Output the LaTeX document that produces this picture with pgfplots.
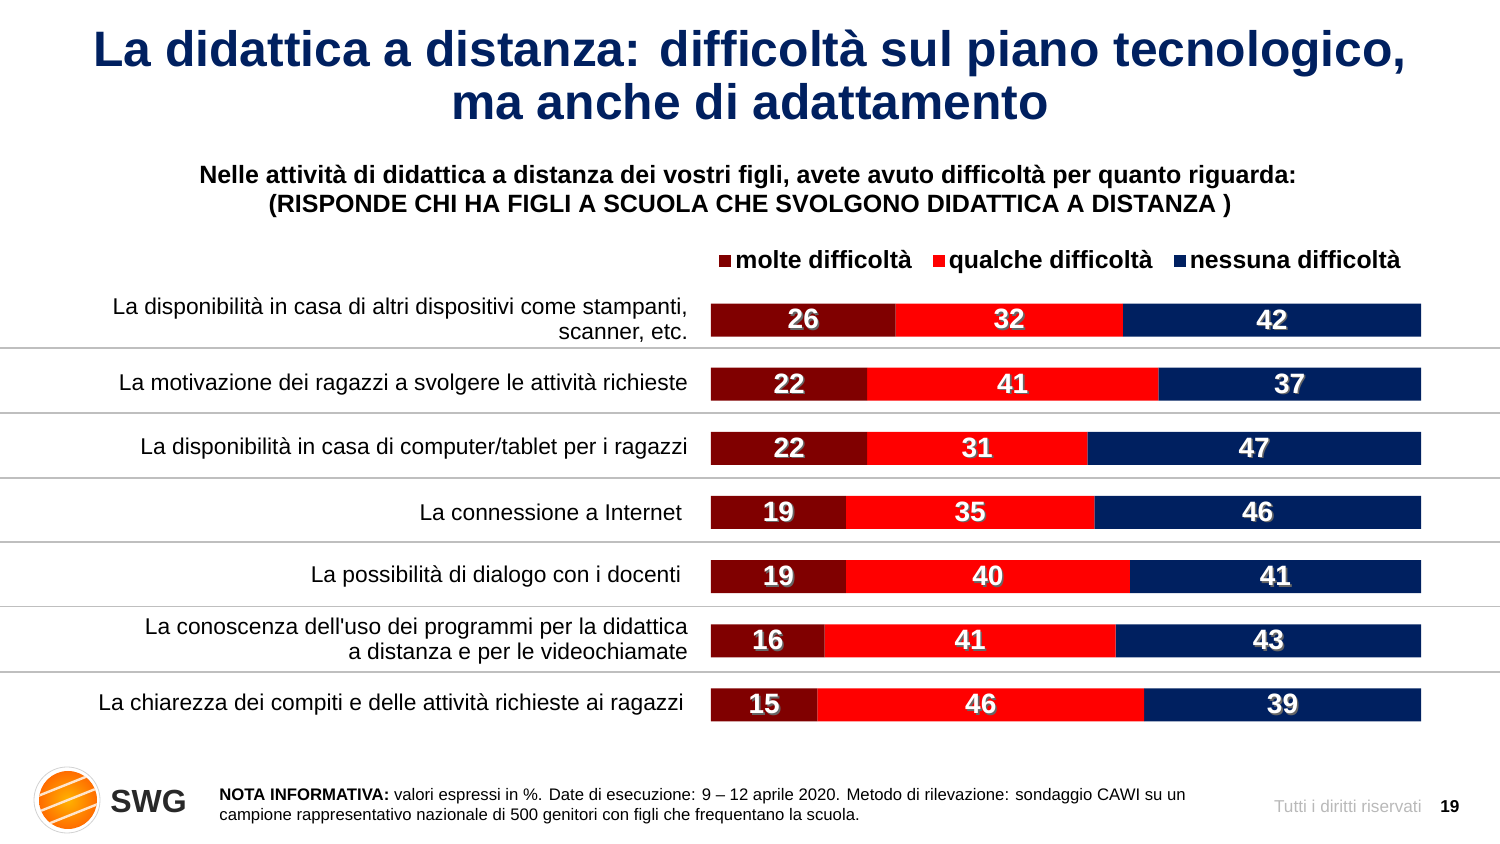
\documentclass[border=0pt]{standalone}
\usepackage{pgfplots}
\pgfplotsset{compat=1.18}
\usepackage{pgfplotstable}
\usetikzlibrary{calc}
\usepackage{fontspec}
\setmainfont{Liberation Sans}
\definecolor{dred}{RGB}{128,0,0}
\definecolor{bred}{RGB}{255,0,0}
\definecolor{navy}{RGB}{0,32,96}
\definecolor{ttl}{RGB}{0,32,96}
\definecolor{sep}{RGB}{191,191,191}
\definecolor{logotxt}{RGB}{40,40,40}

\pgfplotstableread{
cat molte qualche nessuna
0 26 32 42
1 22 41 37
2 22 31 47
3 19 35 46
4 19 40 41
5 16 41 43
6 15 46 39
}\data

\newcommand{\shadowed}[1]{\makebox[0pt][l]{\hspace{0.8pt}\raisebox{-0.8pt}{\color{black!60}#1}}#1}

\begin{document}
\begin{tikzpicture}
\path[use as bounding box] (0,0) rectangle (750pt,422pt);
% title
\node[anchor=base, text=ttl, font=\bfseries\fontsize{24.9}{29}\selectfont] at (375pt,388.5pt) {La didattica a distanza: difficoltà sul piano tecnologico,};
\node[anchor=base, text=ttl, font=\bfseries\fontsize{24.9}{29}\selectfont] at (375pt,362pt) {ma anche di adattamento};
% subtitle
\node[anchor=base, font=\bfseries\fontsize{12.5}{15}\selectfont] at (374pt,330pt) {Nelle attività di didattica a distanza dei vostri figli, avete avuto difficoltà per quanto riguarda:};
\node[anchor=base, font=\bfseries\fontsize{12.5}{15}\selectfont] at (375pt,315.5pt) {(RISPONDE CHI HA FIGLI A SCUOLA CHE SVOLGONO DIDATTICA A DISTANZA )};

\begin{axis}[
  at={(355.5pt,53.5pt)}, anchor=south west,
  scale only axis, width=355pt, height=224.5pt,
  xmin=0, xmax=100, ymin=-0.5, ymax=6.5, y dir=reverse,
  xbar stacked, bar width=16.5pt,
  axis line style={draw=none}, xtick=\empty,
  ytick={0,...,6}, major tick length=0pt,
  yticklabels={{La disponibilità in casa di altri dispositivi come stampanti,\\scanner, etc.},
    {La motivazione dei ragazzi a svolgere le attività richieste},
    {La disponibilità in casa di computer/tablet per i ragazzi},
    {\raisebox{-1.5pt}{La connessione a Internet}\hspace*{3pt}},
    {\raisebox{2.5pt}{La possibilità di dialogo con i docenti}\hspace*{3.5pt}},
    {La conoscenza dell\textquotesingle uso dei programmi per la didattica\\a distanza e per le videochiamate},
    {La chiarezza dei compiti e delle attività richieste ai ragazzi\hspace*{2pt}}},
  yticklabel style={align=right, font=\fontsize{11.4}{12.5}\selectfont, xshift=-8pt},
  clip=false,
  legend style={draw=none, fill=none, legend columns=3, at={(0.9775,1.06)}, anchor=east,
    font=\bfseries\fontsize{12.4}{14}\selectfont, inner sep=0pt,
    /tikz/every even column/.append style={column sep=8.5pt}},
  legend image code/.code={\fill[#1] (0pt,-3pt) rectangle (6pt,3pt);},
  every node near coord/.append style={anchor=center, text=white, font=\bfseries\fontsize{14}{14}\selectfont},
  visualization depends on=rawx \as \myval,
  nodes near coords={\shadowed{\pgfmathprintnumber[assume math mode=true]{\myval}}},
]
\addplot[fill=dred, draw=none] table[x=molte, y=cat]{\data};
\addlegendentry{molte difficoltà}
\addplot[fill=bred, draw=none] table[x=qualche, y=cat]{\data};
\addlegendentry{qualche difficoltà}
\addplot[fill=navy, draw=none] table[x=nessuna, y=cat]{\data};
\addlegendentry{nessuna difficoltà}
\pgfplotsinvokeforeach{0.436,1.449,2.462,3.46,4.47,5.485}{
  \draw[sep, line width=0.7pt] (axis cs:-100.2,#1) -- (axis cs:111.2,#1);
}
\end{axis}

% logo
\draw[gray!35, line width=0.4pt] (33.5pt,22pt) circle (16.5pt);
\shade[inner color=orange!60!yellow, outer color=orange!85!red] (34pt,22pt) circle (14.5pt);
\begin{scope}
\clip (34pt,22pt) circle (14.5pt);
\foreach \o in {-8,0,8}{
  \draw[white!80!orange, line width=1.2pt] (14pt,14pt+\o pt) -- ++(40pt,16pt);
}
\end{scope}
\node[anchor=west, inner sep=0pt, font=\bfseries\fontsize{16}{16}\selectfont, text=logotxt] at (55pt,21.5pt) {SWG};

% footer
\node[anchor=base west, inner sep=0pt, font=\fontsize{8.36}{10}\selectfont] at (109.5pt,21.5pt) {\textbf{NOTA INFORMATIVA:} valori espressi in \%. Date di esecuzione: 9 – 12 aprile 2020. Metodo di rilevazione: sondaggio CAWI su un};
\node[anchor=base west, inner sep=0pt, font=\fontsize{8.36}{10}\selectfont] at (109.5pt,11.5pt) {campione rappresentativo nazionale di 500 genitori con figli che frequentano la scuola.};
\node[anchor=base east, inner sep=0pt, font=\fontsize{8.6}{10}\selectfont, text=gray!55] at (711pt,15.5pt) {Tutti i diritti riservati};
\node[anchor=base west, inner sep=0pt, font=\bfseries\fontsize{8.6}{10}\selectfont] at (720pt,15.5pt) {19};
\end{tikzpicture}
\end{document}
